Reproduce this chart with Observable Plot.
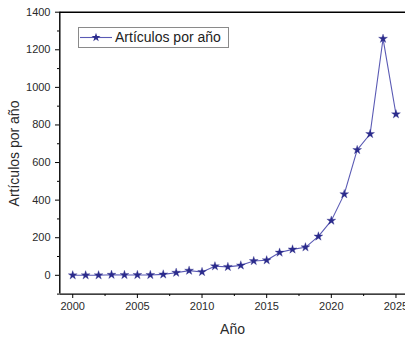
<!DOCTYPE html>
<html>
<head>
<meta charset="utf-8">
<script src="https://cdn.jsdelivr.net/npm/d3@7"></script>
<script src="https://cdn.jsdelivr.net/npm/@observablehq/plot@0.6"></script>
<style>
  html, body { margin: 0; padding: 0; background: #fff; overflow: hidden; }
  #wrap { position: relative; width: 405px; height: 337px; font-family: Arial, "Liberation Sans", sans-serif; }
  #legend { position: absolute; left: 78px; top: 27px; width: 151px; height: 21px; border: 1px solid #8a8a8a; box-sizing: border-box; background: #fff; }
  #legend svg { position: absolute; left: 0; top: 0; }
  #legend span { position: absolute; left: 36px; top: 1px; font-size: 14px; color: #222; white-space: nowrap; }
</style>
</head>
<body>
<div id="wrap"></div>
<script>
const years = [2000,2001,2002,2003,2004,2005,2006,2007,2008,2009,2010,2011,2012,2013,2014,2015,2016,2017,2018,2019,2020,2021,2022,2023,2024,2025];
const articles = [0,0,0,3,2,2,2,5,14,25,18,48,45,53,76,80,121,138,149,207,291,432,667,752,1259,857];
const xTicks = [2000,2005,2010,2015,2020,2025];
const xMinor = [2002.5,2007.5,2012.5,2017.5,2022.5];
const yTicks = [0,200,400,600,800,1000,1200,1400];
const yMinor = [-100,100,300,500,700,900,1100,1300];
const seriesName = "Artículos por año";
const xTitle = "Año";
const yTitle = "Artículos por año";

const data = years.map((y, i) => ({year: y, value: articles[i]}));
const lineColor = "#5a5ab4";
const starColor = "#2b2b8c";
const textColor = "#2a2a2a";
const starR = 2.8;

const chart = Plot.plot({
  width: 405,
  height: 337,
  marginLeft: 59,
  marginTop: 12,
  marginBottom: 43,
  marginRight: 0,
  style: {fontFamily: "Arial, 'Liberation Sans', sans-serif", fontSize: "11px", color: textColor, background: "#fff"},
  x: {domain: [1999, 2026], range: [59.3, 408.4]},
  y: {domain: [-100, 1400], range: [293.6, 11.7]},
  marks: [
    Plot.axisX(xTicks, {tickSize: 4, tickPadding: 4, tickFormat: d => String(d), fontSize: 11, fill: textColor, stroke: "#000", strokeWidth: 1, label: null}),
    Plot.axisX(xMinor, {tickSize: 2, text: null, stroke: "#000", label: null}),
    Plot.axisY(yTicks, {tickSize: 4, tickPadding: 5, tickFormat: d => String(d), fontSize: 11, fill: textColor, stroke: "#000", label: null}),
    Plot.axisY(yMinor, {tickSize: 2, text: null, stroke: "#000", label: null}),
    Plot.ruleX([1999], {y1: -100, y2: 1400, stroke: "#000", strokeWidth: 1.4}),
    Plot.ruleY([-100], {x1: 1999, x2: 2026, stroke: "#000", strokeWidth: 1.4}),
    Plot.ruleY([1400], {x1: 1999, x2: 2026, stroke: "#000", strokeWidth: 1.4}),
    Plot.line(data, {x: "year", y: "value", stroke: lineColor, strokeWidth: 1.1}),
    Plot.dot(data, {x: "year", y: "value", symbol: "star", r: starR, fill: starColor, stroke: starColor, strokeWidth: 0.3}),
    Plot.text([yTitle], {frameAnchor: "left", dx: -45, rotate: -90, fontSize: 14, fill: textColor, textAnchor: "middle", lineAnchor: "middle"}),
    Plot.text([xTitle], {frameAnchor: "bottom", dy: 35, fontSize: 14, fill: textColor, textAnchor: "middle", lineAnchor: "middle"})
  ]
});

const wrap = document.getElementById("wrap");
wrap.appendChild(chart);

const legend = document.createElement("div");
legend.id = "legend";
const star = d3.symbol(d3.symbolStar, Math.PI * starR * starR)();
legend.innerHTML = `<svg width="40" height="20"><line x1="1" x2="33" y1="9.5" y2="9.5" stroke="${lineColor}" stroke-width="1.1"/><path transform="translate(17,9.5)" d="${star}" fill="${starColor}"/></svg><span>${seriesName}</span>`;
wrap.appendChild(legend);
</script>
</body>
</html>
